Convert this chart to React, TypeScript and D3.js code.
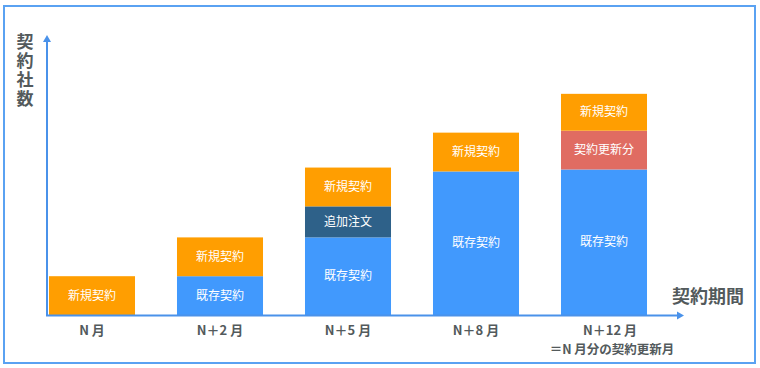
import React from "react";
import * as d3 from "d3";

// categories (x axis)
const categories = ["N 月", "N＋2 月", "N＋5 月", "N＋8 月", "N＋12 月"];
const subLabels = ["", "", "", "", "＝N 月分の契約更新月"];

// stacked segments, bottom to top
const existing = [0, 1, 2, 3.7, 3.75];
const additional = [0, 0, 0.8, 0, 0];
const renewal = [0, 0, 0, 0, 1];
const newContracts = [1, 1, 1, 1, 0.95];

const seriesKeys = ["existing", "additional", "renewal", "newContracts"];
const seriesLabels = ["既存契約", "追加注文", "契約更新分", "新規契約"];
const seriesColors = ["#4199fd", "#2e6189", "#e06c62", "#ff9e01"];

const yAxisLabel = "契約社数";
const xAxisLabel = "契約期間";

const width = 760;
const height = 368;
const font = "'Noto Sans CJK JP', 'Noto Sans', sans-serif";
const textColor = "#535a5c";
const axisColor = "#4a92ea";

const App = () => {
  const table = categories.map((c, i) => ({
    category: c,
    existing: existing[i],
    additional: additional[i],
    renewal: renewal[i],
    newContracts: newContracts[i],
  }));

  const stacked = d3.stack().keys(seriesKeys)(table as any);

  const x = d3
    .scaleBand()
    .domain(categories)
    .range([28, 668])
    .paddingInner(0.328)
    .paddingOuter(0.164);

  const y = d3.scaleLinear().domain([0, 7]).range([315, 43.4]);

  const axisX0 = 47;
  const axisY0 = y(0) + 0.5;

  return (
    <svg
      width={width}
      height={height}
      style={{ position: "absolute", left: 0, top: 0, display: "block", background: "#fff" }}
      fontFamily={font}
    >
      {/* frame */}
      <rect x={4} y={6} width={751} height={357} fill="#fff" stroke="#5aa2f2" strokeWidth={2} />

      {/* bars */}
      {stacked.map((layer, li) => (
        <g key={seriesKeys[li]}>
          {layer.map((d, i) => {
            const h = y(d[0]) - y(d[1]);
            if (h <= 0) return null;
            const bx = x(categories[i])!;
            const bw = x.bandwidth();
            return (
              <g key={i}>
                <rect x={bx} y={y(d[1])} width={bw} height={h} fill={seriesColors[li]} />
                <text
                  x={bx + bw / 2}
                  y={(y(d[0]) + y(d[1])) / 2}
                  dy="0.35em"
                  textAnchor="middle"
                  fill="#fff"
                  fontSize={12}
                >
                  {seriesLabels[li]}
                </text>
              </g>
            );
          })}
        </g>
      ))}

      {/* axes */}
      <line x1={axisX0} y1={axisY0} x2={axisX0} y2={40} stroke={axisColor} strokeWidth={2} />
      <path d={`M${axisX0 - 4},${42} L${axisX0},${35} L${axisX0 + 4},${42} Z`} fill={axisColor} />
      <line x1={axisX0 - 1} y1={axisY0} x2={679} y2={axisY0} stroke={axisColor} strokeWidth={2} />
      <path d={`M${677},${axisY0 - 4} L${684},${axisY0} L${677},${axisY0 + 4} Z`} fill={axisColor} />

      {/* category labels */}
      {categories.map((c, i) => (
        <g key={c}>
          <text
            x={x(c)! + x.bandwidth() / 2 + (subLabels[i] ? 6 : 0)}
            y={335}
            textAnchor="middle"
            fontSize={13}
            fontWeight="bold"
            fill={textColor}
          >
            {c}
          </text>
          {subLabels[i] && (
            <text
              x={x(c)! + x.bandwidth() / 2 + 8}
              y={354}
              textAnchor="middle"
              fontSize={12.5}
              fontWeight="bold"
              fill={textColor}
            >
              {subLabels[i]}
            </text>
          )}
        </g>
      ))}

      {/* axis titles */}
      <text
        x={25}
        y={33}
        fontSize={17}
        fontWeight="bold"
        fill={textColor}
        letterSpacing={2}
        style={{ writingMode: "vertical-rl" }}
      >
        {yAxisLabel}
      </text>
      <text x={672} y={303} fontSize={18} fontWeight="bold" fill={textColor}>
        {xAxisLabel}
      </text>
    </svg>
  );
};

export default App;
